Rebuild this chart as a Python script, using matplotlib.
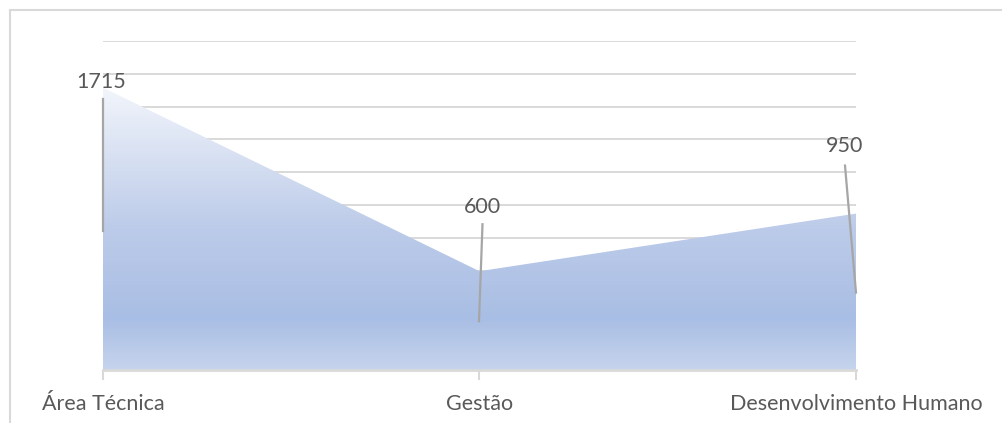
import numpy as np
import matplotlib
matplotlib.use("Agg")
import matplotlib.pyplot as plt
from matplotlib.colors import LinearSegmentedColormap
from matplotlib.patches import Polygon, Rectangle
from matplotlib.lines import Line2D

categories = ["Área Técnica", "Gestão", "Desenvolvimento Humano"]
values = [1715, 600, 950]
label_texts = ["1715", "600", "950"]

plt.rcParams['font.family'] = ['Lato', 'DejaVu Sans']

W, H = 1002, 423
fig = plt.figure(figsize=(W / 100, H / 100), dpi=100)
ax = fig.add_axes([103 / W, 53 / H, (856 - 103) / W, (370 - 40.7) / H])

x = np.arange(len(categories))
ax.set_xlim(0, len(categories) - 1)
ax.set_ylim(0, 2000)

# horizontal gridlines every 200
for g in range(200, 2001, 200):
    ax.axhline(g, color="#d9d9d9", lw=1.4, zorder=0)

# gradient filled area
vmax = max(values)
poly_pts = [(x[0], 0)] + list(zip(x, values)) + [(x[-1], 0)]
poly = Polygon(poly_pts, closed=True, facecolor="none", edgecolor="none")
ax.add_patch(poly)
cmap = LinearSegmentedColormap.from_list(
    "area", [(0.0, "#c6d4ed"), (0.18, "#a9bee4"), (0.5, "#bccbe9"), (1.0, "#f2f5fb")])
grad = np.linspace(0, 1, 256).reshape(-1, 1)
im = ax.imshow(grad, cmap=cmap, origin="lower", aspect="auto",
               extent=(x[0], x[-1], 0, vmax), zorder=1, interpolation="bilinear")
im.set_clip_path(poly)
ax.set_xlim(0, len(categories) - 1)
ax.set_ylim(0, 2000)

# baseline
ax.axhline(0, color="#d9d9d9", lw=2, zorder=2, clip_on=False)

ax.set_xticks(x)
ax.set_xticklabels(categories, fontsize=15.5, color="#595959")
ax.set_yticks([])
ax.tick_params(axis="x", length=7, width=1.5, color="#d9d9d9", pad=10)
for s in ax.spines.values():
    s.set_visible(False)

# data labels and leader lines (offsets in pixels from the data point)
text_off = [(-2, 6), (2.5, 64), (-11, 68)]
leader_off = [((0, -11), (0, -143)), ((3, 47), (-0.5, -50)), ((-11, 48), (0, -79))]
fig.canvas.draw()
for i, v in enumerate(values):
    px, py = ax.transData.transform((x[i], v))
    (a0, b0), (a1, b1) = leader_off[i]
    fig.add_artist(Line2D([px + a0, px + a1], [py + b0, py + b1], transform=None,
                          color="#a6a6a6", lw=1.6, zorder=5))
    tx, ty = text_off[i]
    fig.text((px + tx) / W, (py + ty) / H, label_texts[i], ha="center", va="center",
             fontsize=15.5, color="#595959", zorder=6)

# chart border (only top and left visible)
fig.add_artist(Rectangle((10 / W, -0.5), 2, 1.5 - 10 / H, transform=fig.transFigure,
                         fill=False, edgecolor="#d9d9d9", lw=1.5, clip_on=False))

fig.savefig("out.png", dpi=100)
